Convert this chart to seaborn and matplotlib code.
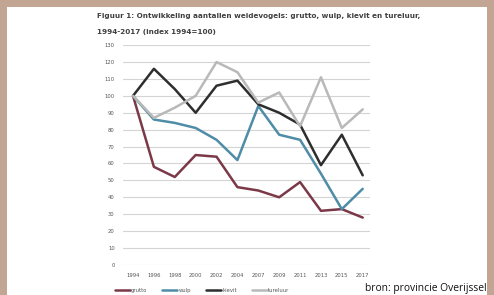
import numpy as np
import pandas as pd
import matplotlib
matplotlib.use("Agg")
import matplotlib.pyplot as plt
from matplotlib.patches import Rectangle
import seaborn as sns

# Data (index 1994 = 100)
jaren = ["1994", "1996", "1998", "2000", "2002", "2004",
         "2007", "2009", "2011", "2013", "2015", "2017"]
grutto   = [100, 58, 52, 65, 64, 46, 44, 40, 49, 32, 33, 28]
wulp     = [100, 86, 84, 81, 74, 62, 94, 77, 74, 54, 33, 45]
kievit   = [100, 116, 104, 90, 106, 109, 95, 90, 83, 59, 77, 53]
tureluur = [100, 87, 93, 100, 120, 114, 96, 102, 82, 111, 81, 92]
soorten = ["grutto", "wulp", "kievit", "tureluur"]
kleuren = {"grutto": "#7b3848", "wulp": "#4f8ca6",
           "kievit": "#2e2e2e", "tureluur": "#b9b9b9"}

df = pd.DataFrame({"jaar": jaren, "grutto": grutto, "wulp": wulp,
                   "kievit": kievit, "tureluur": tureluur})
df["pos"] = np.arange(len(jaren))
lang = df.melt(id_vars=["jaar", "pos"], value_vars=soorten,
               var_name="soort", value_name="index")

sns.set_style("white")
plt.rcParams["font.family"] = ["DejaVu Sans"]

fig = plt.figure(figsize=(4.94, 2.95), dpi=100)
fig.patch.set_facecolor("white")

# bruine rand boven, links en rechts
rand = "#c2a593"
for x, y, w, h in [(0, 0.976, 1, 0.024), (0, 0, 0.014, 1), (0.986, 0, 0.014, 1)]:
    fig.patches.append(Rectangle((x, y), w, h, transform=fig.transFigure,
                                 facecolor=rand, edgecolor="none", zorder=0))

ax = fig.add_axes([0.249, 0.102, 0.5, 0.745])
sns.lineplot(data=lang, x="pos", y="index", hue="soort", hue_order=soorten,
             palette=kleuren, linewidth=1.8, ax=ax, legend=False)

ax.set_xlim(-0.48, 11.35)
ax.set_ylim(0, 130)
ax.set_yticks(range(0, 131, 10))
ax.set_xticks(df["pos"])
ax.set_xticklabels(jaren)
ax.tick_params(labelsize=3.8, colors="#555555", length=0, pad=6)
ax.yaxis.grid(True, color="#d4d4d4", linewidth=0.8)
ax.set_axisbelow(True)
for s in ax.spines.values():
    s.set_visible(False)
ax.set_xlabel("")
ax.set_ylabel("")

fig.text(0.196, 0.938, "Figuur 1: Ontwikkeling aantallen weidevogels: grutto, wulp, kievit en tureluur,",
         fontsize=5.2, color="#404040", fontweight="bold", va="baseline")
fig.text(0.196, 0.886, "1994-2017 (index 1994=100)",
         fontsize=5.2, color="#404040", fontweight="bold", va="baseline")

# legenda onder
handles = [plt.Line2D([], [], color=kleuren[s], linewidth=1.8) for s in soorten]
fig.legend(handles, soorten, loc="lower left", bbox_to_anchor=(0.225, -0.005),
           ncol=4, frameon=False, fontsize=3.8, handlelength=2.8,
           columnspacing=2.8, handletextpad=0.3, labelcolor="#555555",
           borderpad=0.2)

fig.text(0.985, 0.012, "bron: provincie Overijssel", fontsize=7.4,
         family=["Open Sans", "DejaVu Sans"], color="#111111", ha="right",
         va="baseline")

fig.savefig("out.png", dpi=100)
